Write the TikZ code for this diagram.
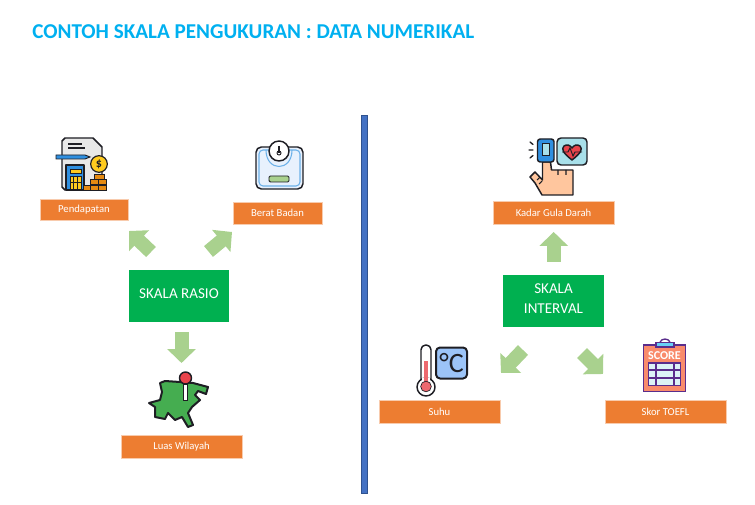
\documentclass[tikz,border=0pt]{standalone}
\usepackage{fontspec}
\setmainfont{Carlito}
\usetikzlibrary{arrows.meta}
\definecolor{titleblue}{HTML}{00B0F0}
\definecolor{boxgreen}{HTML}{00B050}
\definecolor{boxorange}{HTML}{ED7D31}
\definecolor{edgeorange}{HTML}{F8CBAD}
\definecolor{arrowgreen}{HTML}{A9D18E}
\definecolor{barblue}{HTML}{4472C4}
\definecolor{baredge}{HTML}{2F528F}
\definecolor{iconline}{HTML}{1E1E24}
\definecolor{iconblue}{HTML}{2F8FE0}
\definecolor{iconpale}{HTML}{E8F1FD}
\definecolor{icongold}{HTML}{FFCB1F}
\definecolor{iconcoin}{HTML}{E58A12}
\definecolor{iconred}{HTML}{E8434B}
\definecolor{icongreen}{HTML}{45AD50}
\definecolor{iconskin}{HTML}{FFC69E}
\definecolor{iconsky}{HTML}{A8E0EA}
\definecolor{iconsquare}{HTML}{9CC4F8}
\definecolor{iconpurple}{HTML}{5A2D8C}
\definecolor{iconsalmon}{HTML}{F98B6B}
\tikzset{
  labelbox/.style={fill=boxorange, draw=edgeorange, line width=0.5pt, text=white, font=\fontsize{8}{10}\selectfont,
    minimum width=90.75pt, minimum height=17pt, inner sep=0pt, outer sep=0pt},
  scalebox/.style={fill=boxgreen, text=white, font=\fontsize{11.3}{15}\selectfont, align=center,
    minimum width=75.5pt, minimum height=39pt, inner sep=0pt, outer sep=0pt},
  blockarrow/.style={draw=arrowgreen, line width=10.5pt, -{Triangle[length=10.5pt, width=21pt, fill=arrowgreen]}},
  icon/.style={draw=iconline, line width=1.1pt, line join=round, line cap=round}
}
\begin{document}
\begin{tikzpicture}[x=0.75pt, y=-0.75pt]
\useasboundingbox (0,0) rectangle (755,505);

\node [anchor=west, text=titleblue, inner sep=0pt, font=\fontsize{15.85}{18}\selectfont\bfseries] at (32, 32) (title) {CONTOH SKALA PENGUKURAN : DATA NUMERIKAL};

\node [fill=barblue, draw=baredge, line width=0.5pt, minimum width=4.5pt, minimum height=283.5pt, inner sep=0pt] at (364, 304) (divider) {};

% left side
\node [scalebox, text depth=4pt] at (179, 296) (rasio) {SKALA RASIO};
\node [labelbox, minimum width=66pt, minimum height=15.5pt] at (84, 210) (pendapatan) {Pendapatan};
\node [labelbox, minimum width=66.5pt, minimum height=16.5pt] at (277.5, 213) (berat) {Berat Badan};
\node [labelbox] at (181.5, 446.5) (luas) {Luas Wilayah};

\coordinate (a1) at (151, 252);
\coordinate (a2) at (129, 231);
\coordinate (b1) at (208.5, 251.5);
\coordinate (b2) at (232, 232);
\coordinate (c1) at (181.5, 332);
\coordinate (c2) at (181.5, 363);
\draw [blockarrow] (a1) -- (a2);
\draw [blockarrow] (b1) -- (b2);
\draw [blockarrow] (c1) -- (c2);

% right side
\node [scalebox, text depth=4pt] at (553.5, 301) (interval) {SKALA\\INTERVAL};
\node [labelbox] at (553.5, 213) (kadar) {Kadar Gula Darah};
\node [labelbox] at (439.5, 411.5) (suhu) {Suhu};
\node [labelbox] at (665.5, 412) (toefl) {Skor TOEFL};

\coordinate (d1) at (553.7, 262);
\coordinate (d2) at (553.7, 232);
\coordinate (e1) at (523, 350);
\coordinate (e2) at (501, 373);
\coordinate (f1) at (582, 353);
\coordinate (f2) at (603, 374);
\draw [blockarrow] (d1) -- (d2);
\draw [blockarrow] (e1) -- (e2);
\draw [blockarrow] (f1) -- (f2);

% pendapatan icon
\draw [icon, fill=gray!18] (65,138) -- (93,138) -- (102,147) -- (102,190) -- (65,190) -- (62,187) -- (62,141) -- cycle;
\draw [line width=0.8pt, iconline] (68,144) -- (82,144) (68,148) -- (85,148);
\draw [draw=iconline, line width=0.7pt, fill=iconblue] (56,155) -- (85,155) -- (90,157) -- (85,159) -- (56,159) -- cycle;
\draw [icon, fill=iconblue] (66,165) rectangle (84,190);
\draw [fill=icongold, draw=iconline, line width=0.6pt] (70,169) rectangle (81,173);
\draw [fill=icongold, draw=iconline, line width=0.6pt] (70,176) rectangle (81,189);
\draw [iconline, line width=0.6pt] (73.5,176) -- (73.5,189) (77.5,176) -- (77.5,189) (70,182) -- (81,182);
\node [circle, draw=iconline, fill=icongold, line width=0.9pt, minimum size=12.5pt, inner sep=0pt, font=\fontsize{9}{9}\selectfont\bfseries, text=iconline] at (99, 164) (dollar) {\$};
\foreach \cx/\cy in {83/185, 90/185, 98/185, 98/179, 90/179}
  \draw [fill=iconcoin, draw=iconline, line width=0.7pt] (\cx,\cy) rectangle ++(8,5);
\draw [fill=iconcoin, draw=iconline, line width=0.7pt] (94,174) rectangle ++(10,5);

% timbangan icon
\draw [icon, rounded corners=4pt, fill=iconpale] (256,147) rectangle (303,189);
\draw [draw=iconblue!70, line width=0.8pt, rounded corners=3pt, fill=iconpale] (259,150) rectangle (300,186);
\draw [draw=iconblue!70, line width=0.8pt] (266,150) .. controls (266,172) and (292,172) .. (292,150);
\draw [icon, fill=white] (279,151) circle (7.5pt);
\draw [iconline, line width=0.8pt] (279,146) -- (279,153);
\draw [iconline, line width=0.7pt] (279,153) circle (1.5pt);
\draw [icon, fill=arrowgreen, rounded corners=1pt, line width=0.7pt] (269,176) rectangle (289,182);

% pulau icon
\draw [icon, line width=1.5pt, fill=icongreen] (160,383) -- (165,381) -- (180,382) -- (193,383) -- (208,387) -- (206,394) -- (198,391) -- (195,395) -- (200,400) -- (192,407) -- (188,413) -- (193,425) -- (188,427) -- (182,417) -- (175,420) -- (168,413) -- (165,419) -- (155,417) -- (155,407) -- (149,403) -- (160,400) -- (162,392) -- cycle;
\draw [draw=iconline, fill=white, line width=0.7pt] (183.5,384) rectangle (187.5,400);
\draw [icon, fill=iconred] (185.5,378) circle (4.5pt);

% jari icon
\draw [iconline, line width=1pt, line cap=round] (530,142) -- (533,144.5) (529,150) -- (533,150) (530,158) -- (533,155.5);
\draw [icon, fill=iconskin] (542.5,162) -- (550.5,162) -- (551.5,170) -- (573,170) -- (573,195) -- (542,195) -- (535,183) -- (530,177) -- (535,172) -- (542.5,180) -- cycle;
\draw [iconline, line width=0.8pt] (558,170) -- (558,175) (566,170) -- (566,175) (537,180) -- (540,177) (539,184) -- (542,181);
\draw [icon, fill=iconblue, rounded corners=2pt] (537.5,139) rectangle (554,162);
\draw [draw=iconline, fill=iconsky, line width=0.7pt] (542,143) rectangle (549.5,155);
\draw [icon, fill=iconsky, rounded corners=3pt] (557,138) rectangle (587,165);
\draw [icon, fill=iconred] (572,160) .. controls (563,153) and (561,149) .. (564,146) .. controls (567,144) and (570,145) .. (572,148) .. controls (574,145) and (577,144) .. (580,146) .. controls (583,149) and (581,153) .. (572,160) -- cycle;
\draw [iconline, line width=0.7pt] (562,152) -- (568,152) -- (570,148) -- (573,156) -- (575,152) -- (582,152);

% termometer icon
\draw [icon, fill=white, rounded corners=3.5pt] (421,345) rectangle (431,384);
\draw [icon, fill=white] (426,387) circle (6.75pt);
\draw [draw=none, fill=white] (422,378) rectangle (430,384);
\draw [draw=none, fill=iconred!80] (424,361) rectangle (428,386);
\draw [draw=iconline, line width=0.5pt, fill=iconred!80] (426,386.5) circle (4pt);
\draw [icon, line width=1.5pt, rounded corners=3pt, fill=iconsquare] (436,347.5) rectangle (467,378.5);
\node [inner sep=0pt, text=iconline, font=\fontsize{21}{21}\selectfont] at (451.5, 363) (derajat) {°C};

% skor icon
\draw [draw=iconpurple, line width=1.1pt, fill=iconsalmon] (643.5,345) rectangle (685.5,391.5);
\draw [draw=iconpurple, line width=1pt] (660,342) .. controls (662,338) and (668,338) .. (670,342);
\draw [draw=iconpurple, line width=0.9pt, fill=titleblue!60] (656,342.5) rectangle (674,347);
\node [inner sep=0pt, text=white, font=\fontsize{9}{9}\selectfont\bfseries] at (664.5, 356) (score) {SCORE};
\draw [draw=iconpurple, line width=0.9pt, fill=iconsky!40] (648.5,363) rectangle (680.5,385.5);
\draw [draw=iconpurple, line width=0.9pt] (656,363) -- (656,385.5) (674,363) -- (674,385.5) (648.5,370) -- (680.5,370) (648.5,378) -- (680.5,378);
\end{tikzpicture}
\end{document}
